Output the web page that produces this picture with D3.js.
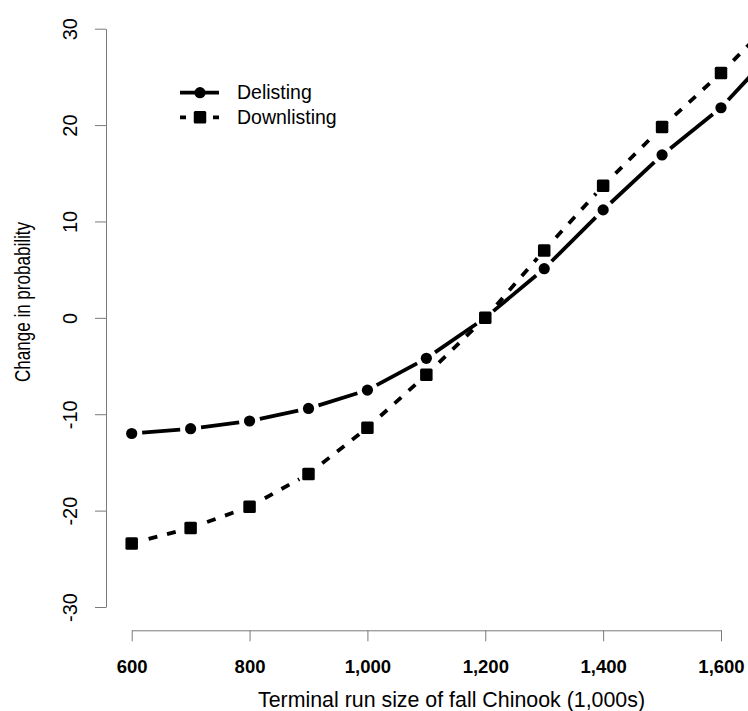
<!DOCTYPE html>
<html>
<head>
<meta charset="utf-8">
<script src="https://cdn.jsdelivr.net/npm/d3@7"></script>
<style>
  html, body { margin: 0; padding: 0; background: #fff; }
  svg { display: block; font-family: "Liberation Sans", Arial, Helvetica, sans-serif; }
</style>
</head>
<body>
<script>
// Terminal run size of fall Chinook (thousands of fish)
const runSize = [600, 700, 800, 900, 1000, 1100, 1200, 1300, 1400, 1500, 1600, 1700];
// Change in probability (percentage points) relative to a run of 1,200
const delisting   = [-12.0, -11.5, -10.7, -9.4, -7.5, -4.2, 0, 5.1, 11.2, 16.9, 21.8, 28.4];
const downlisting = [-23.4, -21.8, -19.6, -16.2, -11.4, -5.9, 0, 7.0, 13.7, 19.8, 25.4, 31.6];
const xTicks = [600, 800, 1000, 1200, 1400, 1600];
const yTicks = [-30, -20, -10, 0, 10, 20, 30];
const seriesNames = ["Delisting", "Downlisting"];

const W = 748, H = 711;
const svg = d3.select("body").append("svg").attr("width", W).attr("height", H);

const x = d3.scaleLinear().domain([600, 1600]).range([131.7, 721]);
const y = d3.scaleLinear().domain([-30, 30]).range([607, 28.7]);

const axisColor = "#7a7a7a";

// x axis
const gx = svg.append("g").attr("transform", "translate(0,630.3)")
  .call(d3.axisBottom(x).tickValues(xTicks).tickFormat(d3.format(",")).tickSize(11).tickSizeOuter(0));
gx.select(".domain").attr("stroke", axisColor);
gx.selectAll(".tick line").attr("stroke", axisColor);
gx.selectAll(".tick text")
  .attr("y", 42.7).attr("dy", 0)
  .attr("fill", "#000")
  .style("font-size", "18.5px").style("font-weight", "bold")
  .style("font-family", "'Liberation Sans', Arial, sans-serif");

// y axis (labels read bottom-to-top, plain hyphen for negatives)
const gy = svg.append("g").attr("transform", "translate(106,0)")
  .call(d3.axisLeft(y).tickValues(yTicks).tickFormat(d => String(d)).tickSize(11).tickSizeOuter(0));
gy.select(".domain").attr("stroke", axisColor);
gy.selectAll(".tick line").attr("stroke", axisColor);
gy.selectAll(".tick text")
  .attr("transform", "rotate(-90)")
  .attr("x", 0).attr("y", -28.7).attr("dy", 0)
  .attr("text-anchor", "middle")
  .attr("fill", "#000")
  .style("font-size", "20px")
  .style("font-family", "'Liberation Sans', Arial, sans-serif");

// axis titles
svg.append("text")
  .attr("x", 451.5).attr("y", 706.5)
  .attr("text-anchor", "middle")
  .attr("textLength", 387).attr("lengthAdjust", "spacingAndGlyphs")
  .style("font-size", "22px")
  .text("Terminal run size of fall Chinook (1,000s)");

svg.append("text")
  .attr("transform", "translate(29.5,302) rotate(-90)")
  .attr("text-anchor", "middle")
  .attr("textLength", 160).attr("lengthAdjust", "spacingAndGlyphs")
  .style("font-size", "22px")
  .text("Change in probability");

// lines drawn point-to-point with a gap around each marker
const GAP = 10.5;
function gappedSegments(values) {
  const pts = runSize.map((r, i) => [x(r), y(values[i])]);
  const segs = [];
  for (let i = 0; i < pts.length - 1; i++) {
    const [x0, y0] = pts[i], [x1, y1] = pts[i + 1];
    const len = Math.hypot(x1 - x0, y1 - y0);
    const ux = (x1 - x0) / len, uy = (y1 - y0) / len;
    segs.push([[x0 + ux * GAP, y0 + uy * GAP], [x1 - ux * GAP, y1 - uy * GAP]]);
  }
  return segs;
}
const line = d3.line();

// Delisting: solid line, filled circles
svg.append("g").selectAll("path").data(gappedSegments(delisting)).join("path")
  .attr("d", line)
  .attr("fill", "none").attr("stroke", "#000").attr("stroke-width", 3.8);
svg.append("g").selectAll("circle").data(runSize).join("circle")
  .attr("cx", d => x(d)).attr("cy", (d, i) => y(delisting[i]))
  .attr("r", 5.6).attr("fill", "#000");

// Downlisting: dashed line, filled squares
svg.append("g").selectAll("path").data(gappedSegments(downlisting)).join("path")
  .attr("d", line)
  .attr("fill", "none").attr("stroke", "#000").attr("stroke-width", 3.8)
  .attr("stroke-dasharray", "9,10").attr("stroke-dashoffset", 12);
const SQ = 12.5;
svg.append("g").selectAll("rect").data(runSize).join("rect")
  .attr("x", d => x(d) - SQ / 2).attr("y", (d, i) => y(downlisting[i]) - SQ / 2)
  .attr("width", SQ).attr("height", SQ).attr("rx", 1.5)
  .attr("fill", "#000");

// legend
const legend = svg.append("g");
const ly = [92.7, 117.3];
legend.append("line").attr("x1", 180).attr("x2", 219).attr("y1", ly[0]).attr("y2", ly[0])
  .attr("stroke", "#000").attr("stroke-width", 3.8);
legend.append("circle").attr("cx", 200).attr("cy", ly[0]).attr("r", 5.6).attr("fill", "#000");
legend.append("line").attr("x1", 180).attr("x2", 219).attr("y1", ly[1]).attr("y2", ly[1])
  .attr("stroke", "#000").attr("stroke-width", 3.8).attr("stroke-dasharray", "6,27,6");
legend.append("rect").attr("x", 200 - SQ / 2).attr("y", ly[1] - SQ / 2)
  .attr("width", SQ).attr("height", SQ).attr("rx", 1.5).attr("fill", "#000");
legend.selectAll("text").data(seriesNames).join("text")
  .attr("x", 237).attr("y", (d, i) => ly[i] + 6.5)
  .style("font-size", "19.5px")
  .text(d => d);
</script>
</body>
</html>
